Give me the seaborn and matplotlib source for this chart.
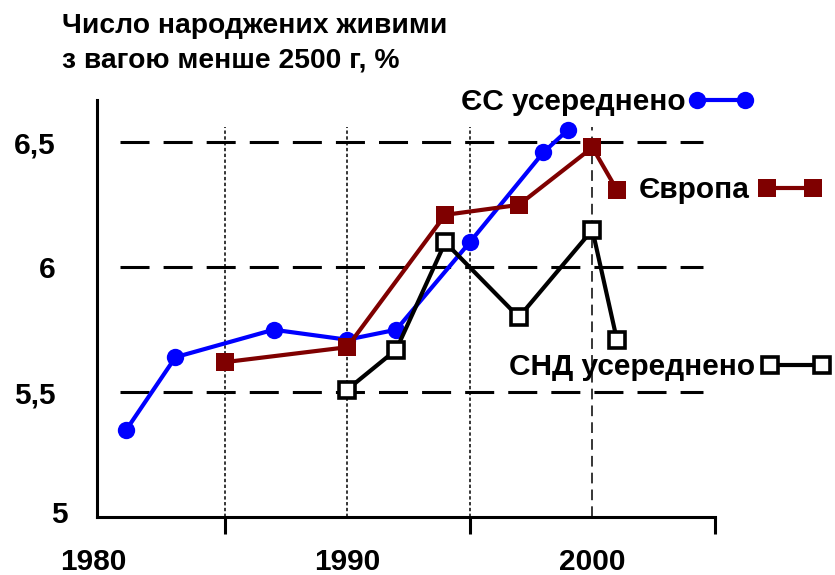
import matplotlib
matplotlib.use("Agg")
import matplotlib.pyplot as plt
import matplotlib.transforms as mtransforms
import seaborn as sns
import numpy as np

# ---- data ----
eu_years = [1981, 1983, 1987, 1990, 1992, 1995, 1998, 1999]
eu_vals = [5.35, 5.64, 5.75, 5.71, 5.75, 6.10, 6.46, 6.55]

europe_years = [1985, 1990, 1994, 1997, 2000, 2001]
europe_vals = [5.62, 5.68, 6.21, 6.25, 6.48, 6.31]

cis_years = [1990, 1992, 1994, 1997, 2000, 2001]
cis_vals = [5.51, 5.67, 6.10, 5.80, 6.15, 5.71]

labels = ["ЄС усереднено", "Європа", "СНД усереднено"]
title = "Число народжених живими\nз вагою менше 2500 г, %"

ytick_vals = [5, 5.5, 6, 6.5]
ytick_labels = ["5", "5,5", "6", "6,5"]
xtick_vals = [1980, 1990, 2000]
xtick_labels = ["1980", "1990", "2000"]
xminor_vals = [1985, 1990, 1995, 2000, 2005]
hgrid_vals = [5.5, 6, 6.5]
vgrid_dotted = [1985, 1990, 1995]
vgrid_dashed = [2000]

# ---- style ----
sns.set_theme(style="white")
plt.rcParams["font.family"] = ["Liberation Sans", "DejaVu Sans"]
plt.rcParams["font.weight"] = "bold"
plt.rcParams["text.color"] = "black"
FS = 21.5
FS_T = 20.3

fig = plt.figure(figsize=(8.35, 5.75), dpi=100)
W, H = 835, 575
ax = fig.add_axes([97 / W, 1 - 517 / H, (715 - 97) / W, (517 - 100) / H])
ax.set_xlim(1979.8, 2005)
ax.set_ylim(5, 6.67)
ax.set_facecolor("white")

for s in ["top", "right"]:
    ax.spines[s].set_visible(False)
for s in ["left", "bottom"]:
    ax.spines[s].set_color("black")
    ax.spines[s].set_linewidth(2.2)

# grid lines
for y in hgrid_vals:
    ax.axhline(y, xmin=0.037, xmax=0.98, color="black", lw=2.2,
               linestyle=(0, (9.5, 4.6)), zorder=1)
for x in vgrid_dotted:
    ax.axvline(x, ymin=0, ymax=0.935, color="black", lw=1.1,
               linestyle=(0, (2.2, 1.6)), zorder=1)
for x in vgrid_dashed:
    ax.axvline(x, ymin=0, ymax=0.935, color="black", lw=1.1,
               linestyle=(0, (7, 4)), zorder=1)

# series
sns.lineplot(x=eu_years, y=eu_vals, ax=ax, color="#0000FF", lw=3,
             marker="o", markersize=12.5, markeredgewidth=0, zorder=3)
eu_line = ax.lines[-1]
sns.lineplot(x=europe_years, y=europe_vals, ax=ax, color="#7F0000", lw=3,
             marker="s", markersize=13, markeredgewidth=0, zorder=4)
eur_line = ax.lines[-1]
sns.lineplot(x=cis_years, y=cis_vals, ax=ax, color="black", lw=3,
             marker="s", markersize=11, markerfacecolor="white",
             markeredgecolor="black", markeredgewidth=2.6, zorder=5)
cis_line = ax.lines[-1]
ax.set_xlabel("")
ax.set_ylabel("")

# ticks
ax.set_xticks(xtick_vals)
ax.set_xticklabels(xtick_labels)
ax.set_xticks(xminor_vals, minor=True)
ax.tick_params(axis="x", which="major", length=12, width=0, pad=10,
               labelsize=FS, labelcolor="black")
ax.tick_params(axis="x", which="minor", length=12, width=2.2,
               direction="out", color="black", bottom=True)

ax.set_yticks(ytick_vals)
ax.set_yticklabels(ytick_labels)
ax.set_yticks(hgrid_vals, minor=True)
ax.tick_params(axis="y", which="major", length=0, width=0, pad=30,
               labelsize=FS, labelcolor="black")
ax.tick_params(axis="y", which="minor", length=29, width=2.2,
               direction="inout", color="black", left=True)
for t in ax.get_xticklabels() + ax.get_yticklabels():
    t.set_fontweight("bold")

# nudge the corner labels like the reference
lbl_y0 = ax.yaxis.get_major_ticks()[0].label1
lbl_y0.set_transform(lbl_y0.get_transform() +
                     mtransforms.ScaledTranslation(0.12, 0.05, fig.dpi_scale_trans))
lbl_x0 = ax.xaxis.get_major_ticks()[0].label1
lbl_x0.set_transform(lbl_x0.get_transform() +
                     mtransforms.ScaledTranslation(-0.09, 0, fig.dpi_scale_trans))

# title
fig.text(62 / W, 1 - 13 / H, title, ha="left", va="top", fontsize=FS_T,
         fontweight="bold", color="black", linespacing=1.4)

# inline legends
prop = {"size": FS, "weight": "bold"}
specs = [
    (eu_line, labels[0], 754, 102, 2.2, 0.1),
    (eur_line, labels[1], 822, 190, 2.14, 0.27),
    (cis_line, labels[2], 831, 367, 2.34, 0.2),
]
for line, lab, xr, yc, hl, htp in specs:
    fig.legend(handles=[line], labels=[lab], loc="center right",
               bbox_to_anchor=(xr / W, 1 - yc / H), frameon=False,
               markerfirst=False, numpoints=2, handlelength=hl,
               handletextpad=htp, borderpad=0, borderaxespad=0, prop=prop,
               labelcolor="black")

fig.savefig("out.png", dpi=100, facecolor="white")
